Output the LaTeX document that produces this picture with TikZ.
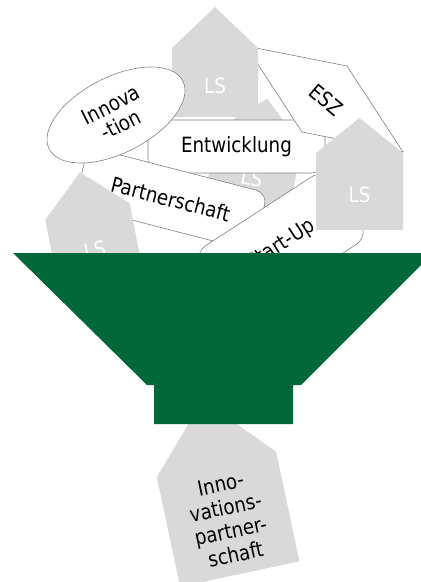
\documentclass[tikz,border=0pt]{standalone}
\usepackage{fontspec}
\setmainfont[FakeStretch=0.87]{DejaVu Sans}
\usetikzlibrary{shapes}
\definecolor{lsgray}{RGB}{217,217,217}
\definecolor{rimgray}{RGB}{128,128,128}
\definecolor{funnelgreen}{RGB}{0,103,58}
\tikzstyle{term}=[draw=rimgray,fill=white,line width=0.6pt,align=center,inner sep=0pt]
\tikzstyle{termbox}=[term,rectangle,rounded corners=14pt]
\tikzstyle{house}=[fill=lsgray]
\tikzstyle{lslabel}=[text=white,inner sep=0pt]
% house: position, angle, half width, roof, body, name
\newcommand{\lshouse}[6]{%
  \begin{scope}[shift={#1},rotate=#2]
    \fill[house] (-#3,0) -- (0,-#4) -- (#3,0) -- (#3,#5) -- (-#3,#5) -- cycle;
    \node[lslabel,transform shape] (#6) at (0,#5/2+3) {LS};
  \end{scope}}

\begin{document}
\begin{tikzpicture}[x=1pt,y=-1pt,font=\fontsize{21pt}{24pt}\selectfont]
    \useasboundingbox (0,0) rectangle (421,582);
    \clip (0,0) rectangle (421,582);
    % First the sheets at the back of the heap
    \lshouse{(259.6,137.8)}{-11}{43}{40}{77}{lsback}
    \node[termbox,minimum width=177pt,minimum height=53pt] (entw) at (236.5,146.5) {Entwicklung};
    \draw[term] (246,46) -- (347,66) -- (403,152) -- (302,132) -- cycle;
    \node[rotate=-40] (esz) at (326,100) {ESZ};
    \lshouse{(215,48)}{0}{43}{41}{69}{lstop}
    % Then the ones lying on top
    \node[termbox,rounded corners=12pt,rotate=-14.5,minimum width=185pt,minimum height=60pt] (partner) at (170.6,199) {Partnerschaft};
    \node[term,ellipse,rotate=27,minimum width=150pt,minimum height=76pt,font=\fontsize{21pt}{22pt}\selectfont] (innov) at (116,115) {Innova\\-tion};
    \lshouse{(87.5,211.5)}{11}{43}{40}{72}{lsleft}
    \node[termbox,rounded corners=16pt,rotate=33,minimum width=158pt,minimum height=81pt] (startup) at (281,245) {Start-Up};
    \lshouse{(359.5,153)}{0}{43.5}{35}{77}{lsright}
    % What comes out of the funnel
    \begin{scope}[shift={(216.5,464.5)},rotate=12]
        \fill[house] (-61,0) -- (0,-66) -- (61,0) -- (61,112) -- (-61,112) -- cycle;
        \node[align=center,transform shape] (result) at (0,56) {Inno-\\vations-\\partner-\\schaft};
    \end{scope}
    % The funnel
    \fill[funnelgreen] (13,253) -- (433,253) -- (301,385) -- (293,385) -- (293,424)
        -- (154,424) -- (154,385) -- (147,385) -- cycle;
\end{tikzpicture}
\end{document}
